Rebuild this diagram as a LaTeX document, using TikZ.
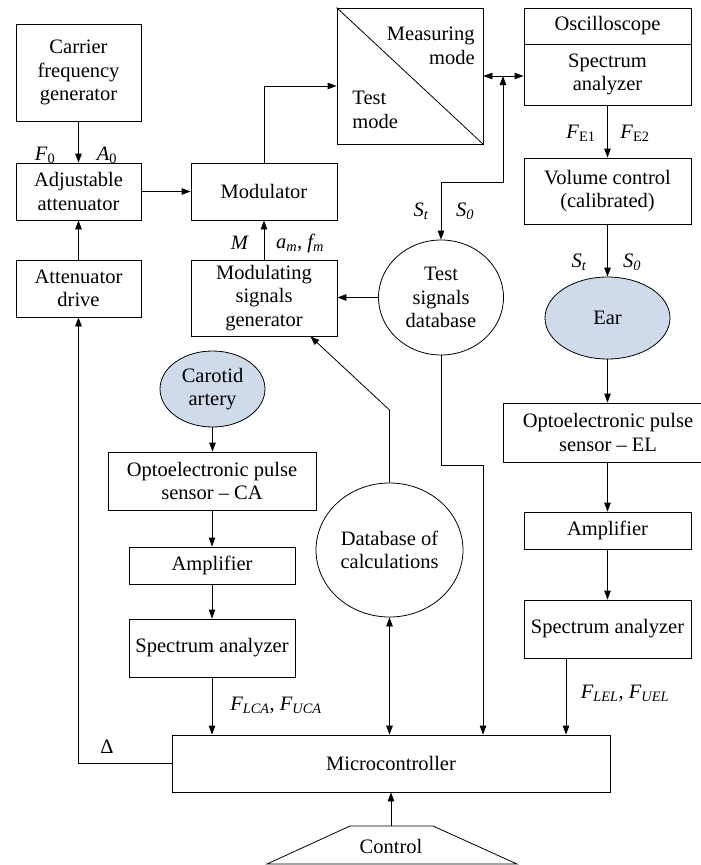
\documentclass[tikz,border=0pt]{standalone}
\usepackage{fontspec}
\setmainfont{Liberation Serif}
\usetikzlibrary{arrows.meta,shapes.geometric}
\definecolor{azulclaro}{RGB}{207,218,234}
\tikzset{
  caja/.style={draw, rectangle, align=center, inner sep=2pt},
  elipse/.style={draw, ellipse, align=center, inner sep=0pt},
  etiq/.style={inner sep=0pt}
}

\begin{document}
\begin{tikzpicture}[x=1pt, y=-1pt, line width=0.8pt,
  >={Triangle[length=9pt,width=6.5pt]},
  font=\fontsize{20.5}{23.5}\selectfont]
\useasboundingbox (0,0) rectangle (701,865);

% Bloques de la izquierda
\node[caja, minimum width=125pt, minimum height=97pt] (carrier) at (78.5,72.5) {Carrier\\frequency\\generator};
\node[caja, minimum width=125pt, minimum height=57pt] (atten) at (78.5,191.5) {Adjustable\\attenuator};
\node[caja, minimum width=125pt, minimum height=57pt] (drive) at (78.5,288.5) {Attenuator\\drive};

% Modulador y generador
\node[caja, minimum width=146pt, minimum height=57pt] (modulator) at (264,191.5) {Modulator};
\node[caja, minimum width=146pt, minimum height=76pt] (modgen) at (264,298) {Modulating\\signals\\generator};

% Caja de modos
\node[caja, minimum width=146pt, minimum height=136pt] (mode) at (410,76) {};
\draw (mode.north west) -- (mode.south east);
\node[etiq, align=right, anchor=east] (measure) at (475,46) {Measuring\\mode};
\node[etiq, align=left, anchor=west] (testmode) at (352,110) {Test\\mode};

% Columna de la derecha
\node[caja, minimum width=167pt, minimum height=36pt] (osc) at (607.5,26) {Oscilloscope};
\node[caja, minimum width=167pt, minimum height=61pt] (specan) at (607.5,74.5) {Spectrum\\analyzer};
\node[caja, minimum width=167pt, minimum height=66pt] (volume) at (607.5,191) {Volume control\\(calibrated)};
\node[elipse, fill=azulclaro, minimum width=125pt, minimum height=82pt] (ear) at (607.5,318) {Ear};
\node[caja, minimum width=210pt, minimum height=59pt] (optoEL) at (608,432.5) {Optoelectronic pulse\\sensor -- EL};
\node[caja, minimum width=167pt, minimum height=37pt] (ampEL) at (607.5,530.5) {Amplifier};
\node[caja, minimum width=167pt, minimum height=58pt] (specEL) at (607.5,629) {Spectrum analyzer};

% Bases de datos
\node[elipse, minimum width=125pt, minimum height=115pt] (testdb) at (441,297.5) {Test\\signals\\database};
\node[elipse, minimum width=147pt, minimum height=134pt] (calcdb) at (389.5,550) {Database of\\calculations};

% Rama de la arteria carotida
\node[elipse, fill=azulclaro, minimum width=105pt, minimum height=76pt] (carotid) at (212.5,389) {Carotid\\artery};
\node[caja, minimum width=208pt, minimum height=58pt] (optoCA) at (212,481) {Optoelectronic pulse\\sensor -- CA};
\node[caja, minimum width=166pt, minimum height=37pt] (ampCA) at (212,565.5) {Amplifier};
\node[caja, minimum width=166pt, minimum height=58pt] (specCA) at (212,648) {Spectrum analyzer};

% Microcontrolador y control
\node[caja, minimum width=438pt, minimum height=57pt] (micro) at (391,763.5) {Microcontroller};
\draw (267,864) -- (350,826) -- (433,826) -- (517,864) -- cycle;
\node (control) at (391,846) {Control};
\coordinate (ctrltop) at (391,826);

% Flechas de la parte superior
\draw[->] (carrier) -- (atten);
\node[etiq] (f0) at (45,155) {\textit{F}\textsubscript{0}};
\node[etiq] (a0) at (107,155) {\textit{A}\textsubscript{0}};
\draw[->] (atten) -- (modulator);
\draw[->] (drive) -- (atten);
\draw[->] (modulator.north) |- ([yshift=-10pt]mode.west);
\draw[->] (modgen) -- (modulator);
\node[etiq] (mlab) at (240,243) {\textit{M}};
\node[etiq] (amfm) at (300,243) {\textit{a\textsubscript{m}}, \textit{f\textsubscript{m}}};
\draw[->] (testdb.west) -- (testdb.west -| modgen.east);

% Conexion de modos con el osciloscopio
\draw[<->] (mode.east) -- (mode.east -| specan.west);
\coordinate (junc) at (503,76);
\coordinate (stbend) at (503,182);
\draw[<->] (junc) -- (stbend) -| (testdb.north);
\node[etiq] (st1) at (421,211) {\textit{S\textsubscript{t}}};
\node[etiq] (so1) at (465,211) {\textit{S\textsubscript{0}}};

% Flechas de la derecha
\draw[->] (specan) -- (volume);
\node[etiq] (fe1) at (581,133) {\textit{F}\textsubscript{E1}};
\node[etiq] (fe2) at (635,133) {\textit{F}\textsubscript{E2}};
\draw[->] (volume) -- (ear);
\node[etiq] (st2) at (579,262) {\textit{S\textsubscript{t}}};
\node[etiq] (so2) at (632,262) {\textit{S\textsubscript{0}}};
\draw[->] (ear.south) -- (ear.south |- optoEL.north);
\draw[->] (optoEL.south -| ampEL.north) -- (ampEL.north);
\draw[->] (ampEL) -- (specEL);
\coordinate (elout) at ([xshift=-41.5pt]specEL.south);
\draw[->] (elout) -- (elout |- micro.north);
\node[etiq] (fel) at (625,693) {\textit{F\textsubscript{LEL}}, \textit{F\textsubscript{UEL}}};

% Flechas de la arteria
\draw[->] (carotid.south) -- (carotid.south |- optoCA.north);
\draw[->] (optoCA) -- (ampCA);
\draw[->] (ampCA) -- (specCA);
\draw[->] (specCA.south) -- (specCA.south |- micro.north);
\node[etiq] (fca) at (276,705) {\textit{F\textsubscript{LCA}}, \textit{F\textsubscript{UCA}}};

% Retroalimentacion del microcontrolador
\draw[->] (micro.west) -| (drive.south);
\node[etiq] (delta) at (107,747) {Δ};
\draw[<->] (calcdb.south) -- (calcdb.south |- micro.north);
\coordinate (calcbend) at (389.5,410);
\coordinate (genin) at ([xshift=-27pt]modgen.south east);
\draw[->] (calcdb.north) -- (calcbend) -- (genin);
\coordinate (dbbend) at (483,465);
\draw[->] (testdb.south) |- (dbbend) -- (dbbend |- micro.north);
\draw[->] (ctrltop) -- (micro.south);
\end{tikzpicture}
\end{document}
